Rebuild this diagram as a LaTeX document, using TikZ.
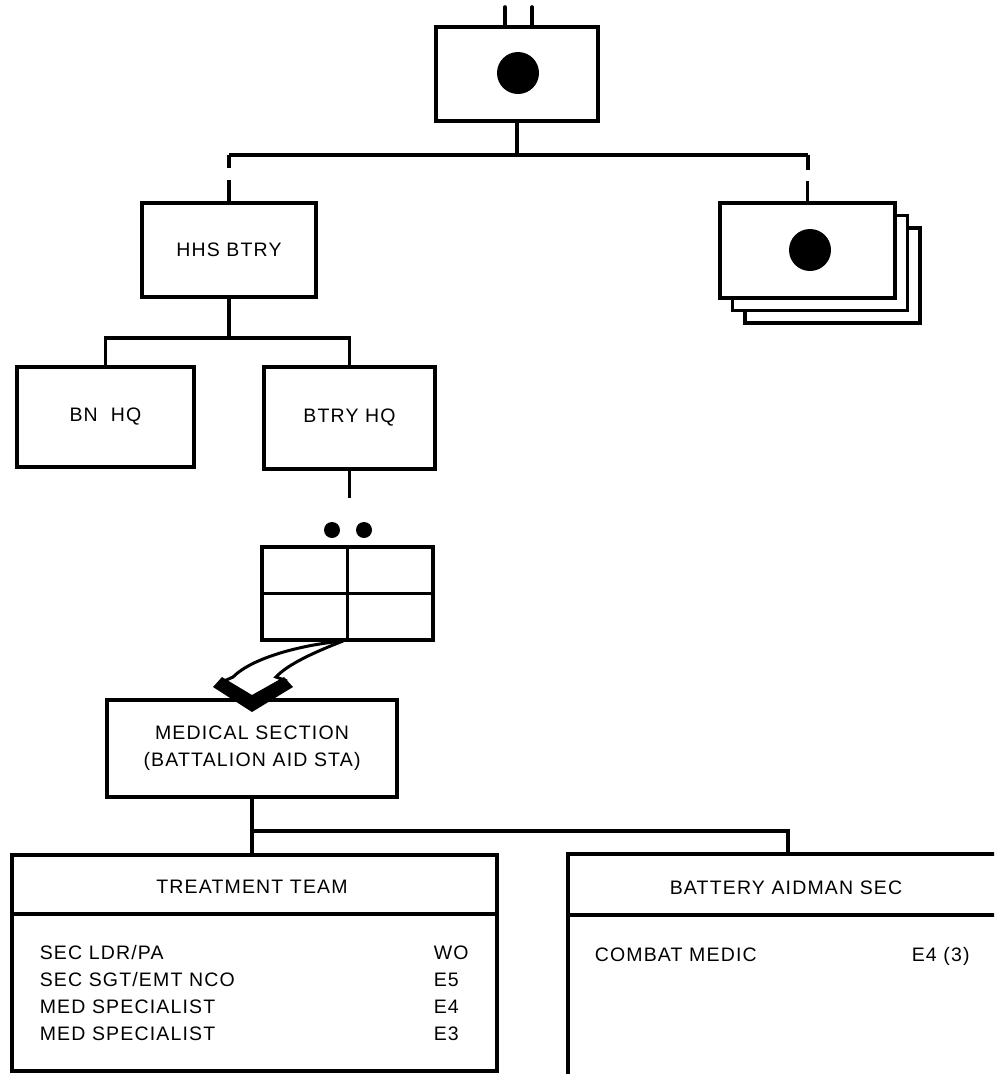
\documentclass[tikz,border=0pt]{standalone}
\usepackage{fontspec}
\setmainfont[LetterSpace=6]{Liberation Sans}
\usetikzlibrary{calc}
\begin{document}
\begin{tikzpicture}[x=1pt,y=-1pt,line width=3.6pt,
  box/.style={draw, rectangle, line width=3.6pt, fill=white, inner sep=0pt,
    font=\fontsize{19.5}{27}\selectfont, align=center},
  dot/.style={circle, fill=black, draw=none, inner sep=0pt},
  txt/.style={font=\fontsize{19.5}{27}\selectfont, inner sep=0pt}]
\path[use as bounding box] (0,0) rectangle (994,1074);
\clip (0,0) rectangle (994,1074);

% top unit
\node[box, minimum width=162, minimum height=94] (top) at (517,74) {};
\node[dot, minimum size=42] (topdot) at (518,73) {};
\coordinate (t1) at (505,7);
\coordinate (t2) at (532,7);
\draw[line cap=round] (t1) -- (t1 |- top.north);
\draw[line cap=round] (t2) -- (t2 |- top.north);

% stacked batteries
\node[box, minimum width=175, minimum height=95] (sb3) at (832.5,275.5) {};
\node[box, minimum width=175, minimum height=95] (sb2) at (820,263) {};
\node[box, minimum width=175, minimum height=95] (sb1) at (807.5,250.5) {};
\node[dot, minimum size=42] (sbdot) at (810,250) {};

% HHS
\node[box, minimum width=174, minimum height=94] (hhs) at (229,250) {HHS BTRY};
\node[box, minimum width=177, minimum height=100] (bn) at (105.5,417) {BN\ \ HQ};
\node[box, minimum width=171, minimum height=102] (btry) at (349.5,418) {BTRY HQ};

% top connectors
\coordinate (bar) at (517,155);
\coordinate (bl) at (229,155);
\coordinate (br) at (808,155);
\draw (top.south) -- (bar);
\draw (bl) -- (br);
\draw (bl) -- ++(0,13);
\draw (hhs.north) -- ++(0,-21);
\draw (br) -- ++(0,15);
\draw (sb1.north) -- ++(0,-20);

% HHS connectors
\coordinate (hb) at (229,338);
\draw (hhs.south) -- (hb);
\draw (bn.north) |- (hb) -| (btry.north);
\coordinate (bs) at (349.5,498);
\draw (btry.south) -- (bs);

% medical platoon symbol
\node[dot, minimum size=16] (d1) at (332,530) {};
\node[dot, minimum size=16] (d2) at (364,530) {};
\node[box, minimum width=171, minimum height=93] (grid) at (347.5,593.5) {};
\draw (grid.north) -- (grid.south);
\draw (grid.west) -- (grid.east);

% medical section
\node[box, minimum width=290, minimum height=97] (med) at (252,748.5)
  {MEDICAL SECTION\\(BATTALION AID STA)};

% curved hollow arrow
\coordinate (as) at (343,641);
\draw[line width=3pt] (as) .. controls (300,645) and (252,658) .. (233,677) -- (222,682);
\draw[line width=3pt] (as) .. controls (315,652) and (288,664) .. (276,677) -- (287,681);
\fill (213,687) -- (252,712) -- (293,687) -- (284,677) -- (252,695) -- (222,677) -- cycle;

% lower boxes
\node[box, minimum width=485, minimum height=216] (tt) at (254.5,963) {};
\draw (tt.west |- 0,914) -- (tt.east |- 0,914);
\node[box, minimum width=500, minimum height=260] (ba) at (818,984) {};
\draw (ba.west |- 0,915) -- (ba.east |- 0,915);

\coordinate (mb) at (252,831);
\coordinate (bt) at (788,854);
\draw (med.south) -- (med.south |- tt.north);
\draw (mb) -| (bt);

% texts
\node[txt, anchor=base] (tth) at (252,893) {TREATMENT TEAM};
\node[txt, anchor=base] (bah) at (786,894) {BATTERY AIDMAN SEC};
\node[txt, anchor=base west] (r1) at (38,959) {SEC LDR/PA};
\node[txt, anchor=base west] (r2) at (38,986) {SEC SGT/EMT NCO};
\node[txt, anchor=base west] (r3) at (38,1013) {MED SPECIALIST};
\node[txt, anchor=base west] (r4) at (38,1040) {MED SPECIALIST};
\node[txt, anchor=base west] (g1) at (432,959) {WO};
\node[txt, anchor=base west] (g2) at (432,986) {E5};
\node[txt, anchor=base west] (g3) at (432,1013) {E4};
\node[txt, anchor=base west] (g4) at (432,1040) {E3};
\node[txt, anchor=base west] (c1) at (593,961) {COMBAT MEDIC};
\node[txt, anchor=base west] (c2) at (910,961) {E4 (3)};
\end{tikzpicture}
\end{document}
